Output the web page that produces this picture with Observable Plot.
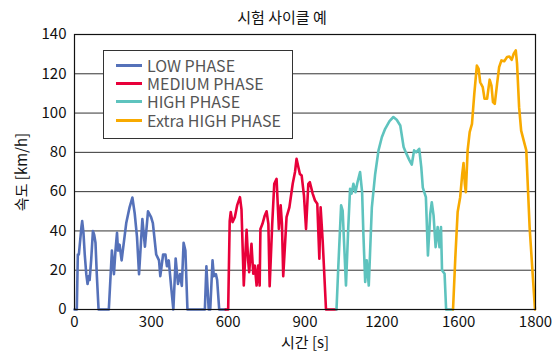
<!DOCTYPE html>
<html><head><meta charset="utf-8">
<script src="https://cdn.jsdelivr.net/npm/d3@7"></script>
<script src="https://cdn.jsdelivr.net/npm/@observablehq/plot@0.6"></script>
<style>
body{margin:0;background:#fff;font-family:"Noto Sans CJK KR","Noto Sans",sans-serif;}
#wrap{position:relative;width:556px;height:353px;}
#title{position:absolute;left:0;top:4px;width:556px;height:26px;line-height:26px;text-align:center;font-size:15px;color:#111;padding-left:8px;box-sizing:border-box;}
#legend{position:absolute;left:103px;top:50px;width:188px;height:82px;border:1.5px solid #333;background:#fff;box-sizing:content-box;padding-top:5px;}
.row{display:flex;align-items:center;height:18.3px;line-height:17px;font-size:16px;color:#555;white-space:nowrap;overflow:visible;}
.row span{display:inline-block;line-height:17px;height:17px;}
.sw{width:26px;height:3px;margin-left:12px;margin-right:5px;flex:none;}
</style></head>
<body>
<div id="wrap"><div id="chart"></div><div id="title"></div><div id="legend"></div></div>
<script>
const titleText = "시험 사이클 예";
const xLabel = "시간 [s]";
const yLabel = "속도 [km/h]";
const phases = ["LOW PHASE", "MEDIUM PHASE", "HIGH PHASE", "Extra HIGH PHASE"];
const colors = ["#5571b9", "#e8003a", "#5ec3be", "#f8aa00"];
const xTickValues = [0, 300, 600, 900, 1200, 1500, 1800];
const xTickLabels = ["0", "300", "600", "900", "1200", "1600", "1800"];
const yTickValues = [0, 20, 40, 60, 80, 100, 120, 140];

const lowT = [0, 9, 13, 17, 27, 30, 35, 40, 46, 51, 56, 59, 65, 72, 77, 82, 87, 94, 134, 140, 146, 154, 160, 166, 170, 176, 184, 202, 215, 226, 235, 244, 252, 265, 275, 287, 299, 306, 319, 330, 335, 346, 355, 361, 368, 377, 386, 395, 404, 412, 419, 426, 433, 441, 509, 515, 524, 530, 539, 544, 552, 557, 565, 589];
const lowV = [0, 0, 28, 28, 42, 45, 39, 28, 18, 13, 17, 15, 25, 40, 38, 34, 18, 0, 0, 15, 30, 18, 30, 39, 30, 33, 25, 44, 52, 57, 49, 37, 18, 46, 32, 50, 47, 44, 28, 25, 17, 28, 28, 22, 25, 12, 0, 26, 13, 18, 12, 34, 30, 0, 0, 22, 0, 0, 25, 17, 18, 15, 0, 0];

const medT = [590, 600, 606, 610, 617, 626, 635, 646, 652, 661, 672, 678, 682, 691, 698, 704, 711, 717, 723, 726, 734, 743, 750, 757, 762, 772, 780, 789, 798, 805, 810, 815, 828, 839, 852, 861, 867, 874, 880, 887, 896, 904, 913, 919, 930, 939, 948, 956, 961, 969, 982, 1022];
const medV = [0, 0, 45, 49.6, 44.5, 47, 53, 57.2, 51, 12.2, 40.6, 25, 19, 33.4, 18.2, 22.4, 12.2, 22.4, 12.2, 41, 43.6, 47.9, 50, 43.6, 11.9, 43.6, 64, 66.5, 41, 53, 43.6, 17, 47, 52, 64, 70, 76.7, 72.5, 69, 68.2, 58, 41, 64, 64.8, 59, 55.5, 53.8, 25.8, 52, 35, 0, 0];

const highT = [1023, 1030, 1041, 1047, 1060, 1069, 1076, 1082, 1089, 1097, 1105, 1115, 1123, 1128, 1135, 1141, 1149, 1161, 1174, 1187, 1200, 1213, 1230, 1245, 1258, 1272, 1285, 1295, 1308, 1317, 1326, 1334, 1346, 1354, 1360, 1372, 1380, 1389, 1395, 1402, 1410, 1418, 1425, 1431, 1435, 1445, 1451, 1477];
const highV = [0, 21.6, 53, 50.4, 12.2, 42, 61.4, 59, 64, 59.7, 64.8, 70, 59.7, 38.5, 14, 25, 12.2, 52, 69, 81, 87.7, 92, 95.9, 98, 96.6, 93.7, 82.7, 79.6, 75.9, 73.8, 81, 80, 81.8, 72.5, 62, 57.2, 27.5, 48.7, 54.6, 47.9, 31.7, 42, 31.7, 42, 20, 18.2, 0, 0];

const exT = [1478, 1487, 1496, 1506, 1514, 1519, 1524, 1528, 1535, 1543, 1552, 1561, 1571, 1578, 1584, 1594, 1601, 1611, 1621, 1628, 1634, 1641, 1650, 1658, 1667, 1678, 1689, 1698, 1707, 1715, 1723, 1728, 1736, 1744, 1754, 1764, 1777, 1798];
const exV = [0, 26.6, 49.6, 57.2, 69, 74.5, 64, 59.7, 81, 90.3, 94.5, 109.8, 124.2, 122.5, 115.7, 113.2, 107.3, 107.3, 117, 114, 105.6, 104.7, 114.9, 123.4, 126.8, 126.4, 128.5, 128.8, 127.1, 130.2, 131.9, 125, 103, 91.1, 86, 81, 41.9, 0];

const series = [[lowT, lowV], [medT, medV], [highT, highV], [exT, exV]];
const rows = series.flatMap(([ts, vs], i) => ts.map((t, j) => ({t, v: vs[j], phase: phases[i]})));

document.getElementById("title").textContent = titleText;

const chart = Plot.plot({
  width: 556,
  height: 353,
  marginLeft: 74,
  marginRight: 21,
  marginTop: 34,
  marginBottom: 44,
  style: {fontFamily: '"Noto Sans CJK KR","Noto Sans",sans-serif', fontSize: "15px", color: "#111", background: "#fff"},
  x: {domain: [0, 1800], ticks: xTickValues, tickFormat: (d) => xTickLabels[xTickValues.indexOf(d)], label: xLabel, labelAnchor: "center", labelArrow: "none", tickSize: 0, tickPadding: 7, labelOffset: 38},
  y: {domain: [0, 140], ticks: yTickValues, label: yLabel, labelAnchor: "center", labelArrow: "none", tickSize: 0, tickPadding: 8, labelOffset: 58},
  color: {domain: phases, range: colors},
  marks: [
    Plot.gridY(yTickValues.filter(d => d > 0 && d < 140), {stroke: "#333", strokeOpacity: 1, strokeWidth: 1}),
    Plot.line(rows, {x: "t", y: "v", z: "phase", stroke: "phase", strokeWidth: 2.6}),
    Plot.frame({stroke: "#111", strokeWidth: 1.2})
  ]
});
document.getElementById("chart").appendChild(chart);

const lg = document.getElementById("legend");
phases.forEach((p, i) => {
  const r = document.createElement("div");
  r.className = "row";
  const s = document.createElement("div");
  s.className = "sw";
  s.style.background = colors[i];
  const tx = document.createElement("span");
  tx.textContent = p;
  r.appendChild(s); r.appendChild(tx);
  lg.appendChild(r);
});
</script>
</body></html>
